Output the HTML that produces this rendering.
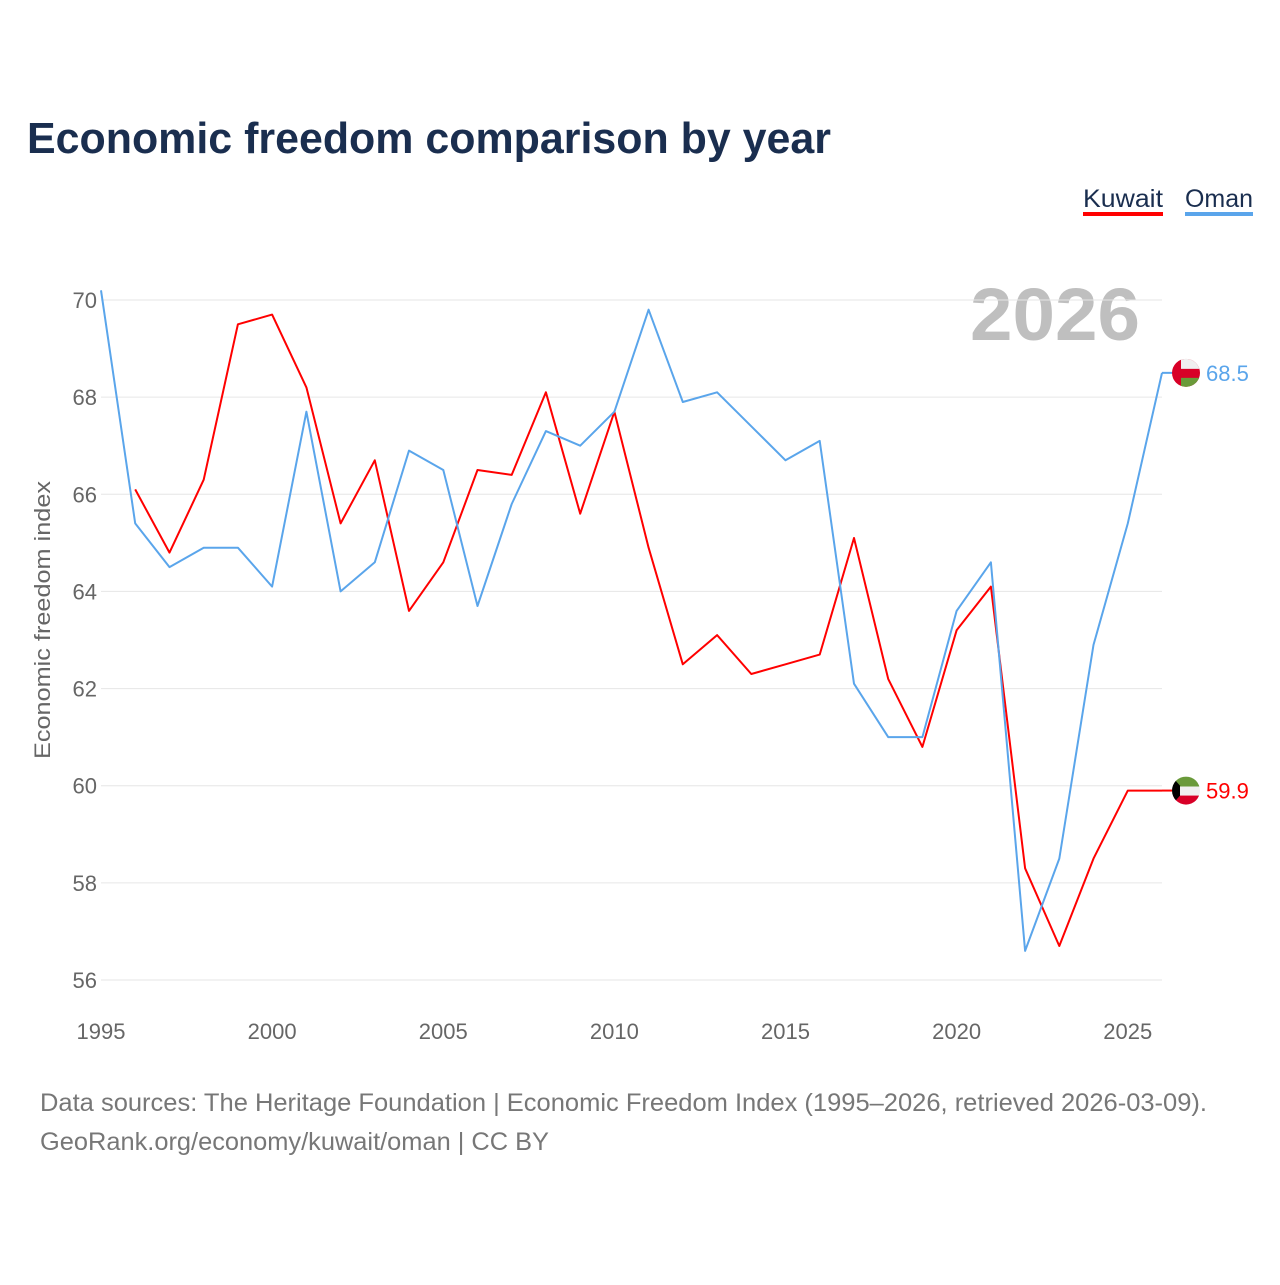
<!DOCTYPE html>
<html><head><meta charset="utf-8">
<style>
body{margin:0;background:#fff;font-family:"Liberation Sans",sans-serif;}
svg text{font-family:"Liberation Sans",sans-serif;}
</style></head>
<body>
<svg id="chart" width="1280" height="1280" viewBox="0 0 1280 1280">
<rect width="1280" height="1280" fill="#fff"/>
<text x="27" y="153" font-size="44" font-weight="bold" fill="#1a2e4f" textLength="804" lengthAdjust="spacingAndGlyphs">Economic freedom comparison by year</text>
<g>
<text x="1083" y="207" font-size="25" fill="#1a2e4f" textLength="80" lengthAdjust="spacingAndGlyphs">Kuwait</text>
<rect x="1083" y="212" width="80" height="4" fill="#ff0000"/>
<text x="1185" y="207" font-size="25" fill="#1a2e4f" textLength="68" lengthAdjust="spacingAndGlyphs">Oman</text>
<rect x="1185" y="212" width="68" height="4" fill="#5aa5eb"/>
</g>
<text x="1140" y="340" font-size="74" font-weight="bold" fill="#bfbfbf" text-anchor="end" textLength="170" lengthAdjust="spacingAndGlyphs">2026</text>
<text transform="translate(50,620) rotate(-90)" font-size="22" fill="#666" text-anchor="middle" textLength="278" lengthAdjust="spacingAndGlyphs">Economic freedom index</text>
<g id="grid"></g>
<g id="series"></g>
<text x="40" y="1111" font-size="25" fill="#777" textLength="1167" lengthAdjust="spacingAndGlyphs">Data sources: The Heritage Foundation | Economic Freedom Index (1995–2026, retrieved 2026-03-09).</text>
<text x="40" y="1150" font-size="25" fill="#777" textLength="509" lengthAdjust="spacingAndGlyphs">GeoRank.org/economy/kuwait/oman | CC BY</text>
</svg>
<script>
const years=[1995,1996,1997,1998,1999,2000,2001,2002,2003,2004,2005,2006,2007,2008,2009,2010,2011,2012,2013,2014,2015,2016,2017,2018,2019,2020,2021,2022,2023,2024,2025,2026];
const omanValues=[70.2,65.4,64.5,64.9,64.9,64.1,67.7,64.0,64.6,66.9,66.5,63.7,65.8,67.3,67.0,67.7,69.8,67.9,68.1,67.4,66.7,67.1,62.1,61.0,61.0,63.6,64.6,56.6,58.5,62.9,65.4,68.5];
const kuwaitValues=[null,66.1,64.8,66.3,69.5,69.7,68.2,65.4,66.7,63.6,64.6,66.5,66.4,68.1,65.6,67.7,64.9,62.5,63.1,62.3,62.5,62.7,65.1,62.2,60.8,63.2,64.1,58.3,56.7,58.5,59.9,59.9];
const yTicks=[56,58,60,62,64,66,68,70];
const xTicks=[1995,2000,2005,2010,2015,2020,2025];
const NS="http://www.w3.org/2000/svg";
const x=v=>101+(v-1995)*(1162-101)/31;
const y=v=>980-(v-56)*(680/14);
function mk(tag,attrs,parent,text){const e=document.createElementNS(NS,tag);for(const k in attrs)e.setAttribute(k,attrs[k]);if(text!==undefined)e.textContent=text;parent.appendChild(e);return e;}
const grid=document.getElementById('grid');
yTicks.forEach(t=>{
 const l=mk('line',{x1:101,x2:1162,y1:y(t),y2:y(t),stroke:'#e6e6e6','stroke-width':1},grid);
 
 
 const tx=mk('text',{x:97,y:y(t)+8,'font-size':22,fill:'#666','text-anchor':'end'},grid,t);
 
 
});
xTicks.forEach(t=>{
 const tx=mk('text',{x:x(t),y:1039,'font-size':22,fill:'#666','text-anchor':'middle'},grid,t);
 
 
});
const ser=document.getElementById('series');
function flag(cx,cy,name){
 const g=mk('g',{},ser);
 
 
 const id='clip-'+name;
 const cp=mk('clipPath',{id:id},g);mk('circle',{cx:cx,cy:cy,r:14},cp);
 const h=mk('g',{'clip-path':'url(#'+id+')'},g);
 if(name==='kuwait'){
  mk('rect',{x:cx-14,y:cy-14,width:28,height:10,fill:'#6a9a3a'},h);
  mk('rect',{x:cx-14,y:cy-4,width:28,height:9,fill:'#f0f0f0'},h);
  mk('rect',{x:cx-14,y:cy+5,width:28,height:10,fill:'#d80027'},h);
  mk('polygon',{points:(cx-14)+','+(cy-14)+' '+(cx-6)+','+(cy-5)+' '+(cx-6)+','+(cy+5)+' '+(cx-14)+','+(cy+14),fill:'#000'},h);
 } else {
  mk('rect',{x:cx-14,y:cy-14,width:28,height:28,fill:'#d80027'},h);
  mk('rect',{x:cx-5,y:cy-14,width:19,height:10,fill:'#f0f0f0'},h);
  mk('rect',{x:cx-5,y:cy+5,width:19,height:10,fill:'#6a9a3a'},h);
 }
}
function line(vals,color,name){
 let d='';vals.forEach((v,i)=>{if(v==null)return;d+=(d?'L':'M')+x(years[i]).toFixed(1)+','+y(v).toFixed(1);});
 const p=mk('path',{d:d,fill:'none',stroke:color,'stroke-width':2,'stroke-linejoin':'round'},ser);
 
 
 const last=vals[vals.length-1];
 const lx=x(years[years.length-1]);
 mk('line',{x1:lx,x2:lx+12,y1:y(last),y2:y(last),stroke:color,'stroke-width':2},ser);
 flag(lx+24,y(last),name);
 const t=mk('text',{x:lx+44,y:y(last)+8,'font-size':22,fill:color},ser,last.toFixed(1));
 
 
}
line(kuwaitValues,'#ff0000','kuwait');
line(omanValues,'#5aa5eb','oman');
</script>
</body></html>
